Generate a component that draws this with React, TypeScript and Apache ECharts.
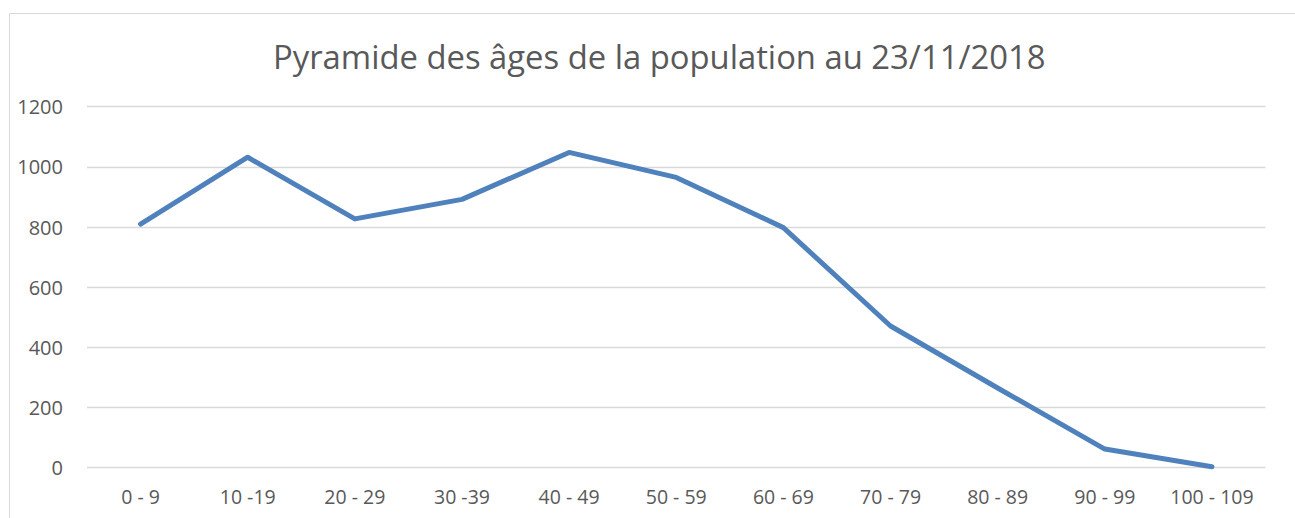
import React, { useEffect, useRef } from "react";
import * as echarts from "echarts";

const categories = ["0 - 9", "10 -19", "20 - 29", "30 -39", "40 - 49", "50 - 59", "60 - 69", "70 - 79", "80 - 89", "90 - 99", "100 - 109"];
const population = [810, 1032, 827, 892, 1048, 965, 798, 471, 265, 62, 3];
const yTicks = { min: 0, max: 1200, interval: 200 };
const titleText = "Pyramide des âges de la population au 23/11/2018";

export default function App() {
  const ref = useRef<HTMLDivElement>(null);
  useEffect(() => {
    if (!ref.current) return;
    const chart = echarts.init(ref.current, null, { renderer: "svg" });
    const font = "Open Sans";
    chart.setOption({
      animation: false,
      backgroundColor: "#ffffff",
      title: {
        text: titleText,
        left: 268,
        top: 35,
        textStyle: { fontFamily: font, fontSize: 32.8, fontWeight: "normal", color: "#595959" },
      },
      graphic: [
        {
          type: "rect",
          shape: { x: 9.5, y: 13.5, width: 1400, height: 700 },
          style: { fill: "none", stroke: "#d9d9d9", lineWidth: 1 },
          silent: true,
        },
      ],
      grid: { left: 87, right: 29.5, top: 106.7, bottom: 50.3, containLabel: false },
      xAxis: {
        type: "category",
        data: categories,
        boundaryGap: true,
        axisLine: { show: false },
        axisTick: { show: false },
        axisLabel: { fontFamily: font, fontSize: 19.5, color: "#595959", margin: 19, interval: 0 },
      },
      yAxis: {
        type: "value",
        min: yTicks.min,
        max: yTicks.max,
        interval: yTicks.interval,
        axisLine: { show: false },
        axisTick: { show: false },
        axisLabel: { fontFamily: font, fontSize: 20, color: "#595959", margin: 24, formatter: (v: number) => String(v) },
        splitLine: { lineStyle: { color: "#d9d9d9", width: 1.3 } },
      },
      series: [
        {
          type: "line",
          data: population,
          showSymbol: false,
          symbol: "none",
          lineStyle: { color: "#4f81bd", width: 5, cap: "round", join: "round" },
        },
      ],
    });
    return () => chart.dispose();
  }, []);
  return <div ref={ref} style={{ position: "fixed", left: 0, top: 0, width: 1295, height: 518 }} />;
}
